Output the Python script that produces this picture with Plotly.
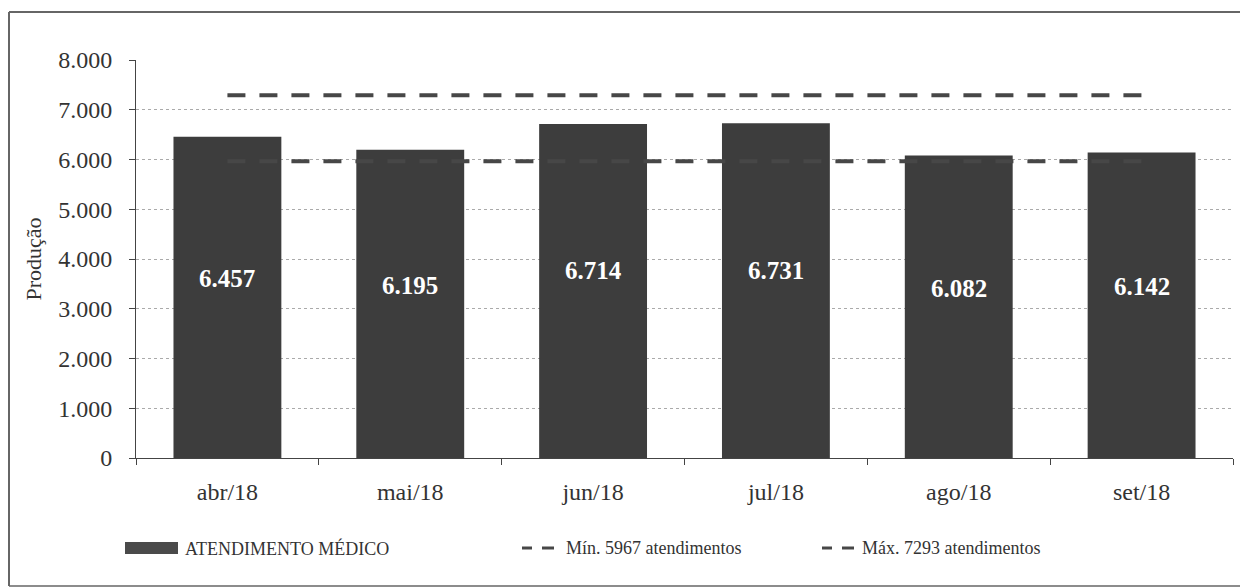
import plotly.graph_objects as go

categories = ["abr/18", "mai/18", "jun/18", "jul/18", "ago/18", "set/18"]
atendimentos = [6457, 6195, 6714, 6731, 6082, 6142]
minimo = 5967
maximo = 7293
y_ticks = [0, 1000, 2000, 3000, 4000, 5000, 6000, 7000, 8000]

SERIF = "Liberation Serif"
BAR_COLOR = "#3d3d3d"
LINE_COLOR = "#474747"

W, H = 1240, 588
ML, MR, MT, MB = 136, 7, 60, 130
PW = W - ML - MR
PH = H - MT - MB

def px2x(px):
    return (px - ML) / PW

def py2y(py):
    return (H - MB - py) / PH

fig = go.Figure()
fig.add_trace(go.Bar(x=categories, y=atendimentos, marker=dict(color=BAR_COLOR, line=dict(width=0)),
                     width=0.59, showlegend=False, hoverinfo="y"))
fig.add_trace(go.Scatter(x=categories, y=[minimo] * len(categories), mode="lines",
                         line=dict(color=LINE_COLOR, width=4, dash="18px,14px"), showlegend=False))
fig.add_trace(go.Scatter(x=categories, y=[maximo] * len(categories), mode="lines",
                         line=dict(color=LINE_COLOR, width=4, dash="18px,14px"), showlegend=False))

annotations = []
for c, v in zip(categories, atendimentos):
    annotations.append(dict(x=c, y=v * 0.56, xref="x", yref="y", text=f"{v:,}".replace(",", "."),
                            showarrow=False, font=dict(family=SERIF, size=25, color="white", weight="bold")))

# manual legend
shapes = [
    dict(type="rect", xref="paper", yref="paper", x0=px2x(125), x1=px2x(178), y0=py2y(554), y1=py2y(542),
         fillcolor="#4a4a4a", line=dict(width=0)),
    dict(type="line", xref="paper", yref="paper", x0=px2x(522), x1=px2x(532), y0=py2y(548), y1=py2y(548),
         line=dict(color=LINE_COLOR, width=3)),
    dict(type="line", xref="paper", yref="paper", x0=px2x(542), x1=px2x(554), y0=py2y(548), y1=py2y(548),
         line=dict(color=LINE_COLOR, width=3)),
    dict(type="line", xref="paper", yref="paper", x0=px2x(822), x1=px2x(832), y0=py2y(548), y1=py2y(548),
         line=dict(color=LINE_COLOR, width=3)),
    dict(type="line", xref="paper", yref="paper", x0=px2x(842), x1=px2x(854), y0=py2y(548), y1=py2y(548),
         line=dict(color=LINE_COLOR, width=3)),
    # outer frame
    dict(type="line", xref="paper", yref="paper", x0=px2x(9), x1=px2x(9), y0=py2y(586), y1=py2y(12),
         line=dict(color="#666666", width=2)),
    dict(type="line", xref="paper", yref="paper", x0=px2x(9), x1=px2x(1240), y0=py2y(586), y1=py2y(586),
         line=dict(color="#666666", width=1.5)),
    dict(type="line", xref="paper", yref="paper", x0=px2x(9), x1=px2x(1240), y0=py2y(12), y1=py2y(12),
         line=dict(color="#666666", width=2)),
]
legend_texts = [("ATENDIMENTO MÉDICO", 183), (f"Mín. {minimo} atendimentos", 564), (f"Máx. {maximo} atendimentos", 860)]
for t, xpx in legend_texts:
    annotations.append(dict(x=px2x(xpx), y=py2y(548), xref="paper", yref="paper", text=t, showarrow=False,
                            xanchor="left", yanchor="middle", font=dict(family=SERIF, size=18, color="#333333")))

fig.update_layout(
    width=W, height=H,
    margin=dict(l=ML, r=MR, t=MT, b=MB),
    paper_bgcolor="white", plot_bgcolor="white",
    separators=",.",
    font=dict(family=SERIF, size=18, color="#333333"),
    bargap=0.41,
    annotations=annotations,
    shapes=shapes,
    xaxis=dict(showline=True, linecolor="#444444", linewidth=1, ticks="outside", tickson="boundaries",
               ticklen=6, tickcolor="#444444", showgrid=False, ticklabelstandoff=12,
               tickfont=dict(family=SERIF, size=24, color="#333333")),
    yaxis=dict(range=[0, 8000], tickvals=y_ticks, tickformat=",d", showline=True, linecolor="#444444",
               linewidth=1, ticks="outside", ticklen=6, tickcolor="#444444", ticklabelstandoff=12,
               showgrid=True, gridcolor="#aaaaaa", griddash="dot", gridwidth=1, zeroline=False,
               tickfont=dict(family=SERIF, size=24, color="#333333"),
               title=dict(text="Produção", font=dict(family=SERIF, size=22, color="#333333"), standoff=10)),
)

fig.write_html("out.html")
